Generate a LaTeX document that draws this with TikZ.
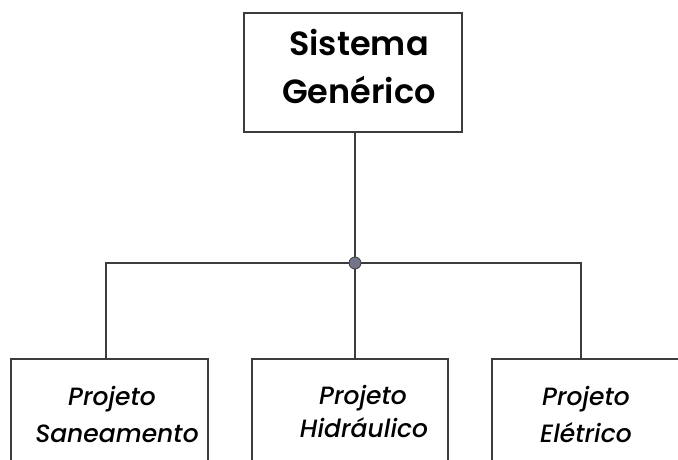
\documentclass[tikz,border=0pt]{standalone}
\usepackage{fontspec}
\setmainfont{Poppins}
\newfontfamily\titlefont{Poppins SemiBold}
\newfontfamily\subfont{Poppins Medium Italic}
\definecolor{linegray}{HTML}{3C3C3C}
\definecolor{dotfill}{HTML}{74748A}
\begin{document}
\begin{tikzpicture}[x=1pt,y=-1pt,
  box/.style={draw=linegray, line width=1.2pt, fill=white, inner sep=0pt},
  wire/.style={draw=linegray, line width=1.2pt},
  titletext/.style={anchor=base, inner sep=0pt, font=\fontsize{33.5}{40}\titlefont},
  subtext/.style={anchor=base, inner sep=0pt, font=\fontsize{25}{30}\subfont}]
\useasboundingbox (0,0) rectangle (678,459);
\clip (0,0) rectangle (678,459);
\fill[white] (0,0) rectangle (678,459);
% boxes
\node[box, minimum width=218pt, minimum height=119pt] (top) at (353,72.5) {};
\node[box, minimum width=197pt, minimum height=130pt] (left) at (109.5,424) {};
\node[box, minimum width=196pt, minimum height=130pt] (mid) at (350,424) {};
\node[box, minimum width=200pt, minimum height=130pt] (right) at (592,424) {};
% texts
\node[titletext] (t1) at (359,55) {Sistema};
\node[titletext] (t2) at (359,103) {Genérico};
\node[subtext] (l1) at (112,405) {Projeto};
\node[subtext] (l2) at (117,442) {Saneamento};
\node[subtext] (m1) at (363,404) {Projeto};
\node[subtext] (m2) at (364,437) {Hidráulico};
\node[subtext] (r1) at (586,405) {Projeto};
\node[subtext] (r2) at (586,442) {Elétrico};
% connection points
\coordinate (ts) at (355,132);
\coordinate (hub) at (355,263);
\coordinate (ln) at (106,359);
\coordinate (mn) at (355,359);
\coordinate (rn) at (581,359);
\draw[wire] (ts) -- (hub);
\draw[wire] (hub) -| (ln);
\draw[wire] (hub) -- (mn);
\draw[wire] (hub) -| (rn);
\filldraw[fill=dotfill, draw=linegray, line width=0.8pt] (hub) circle (6pt);
\end{tikzpicture}
\end{document}
